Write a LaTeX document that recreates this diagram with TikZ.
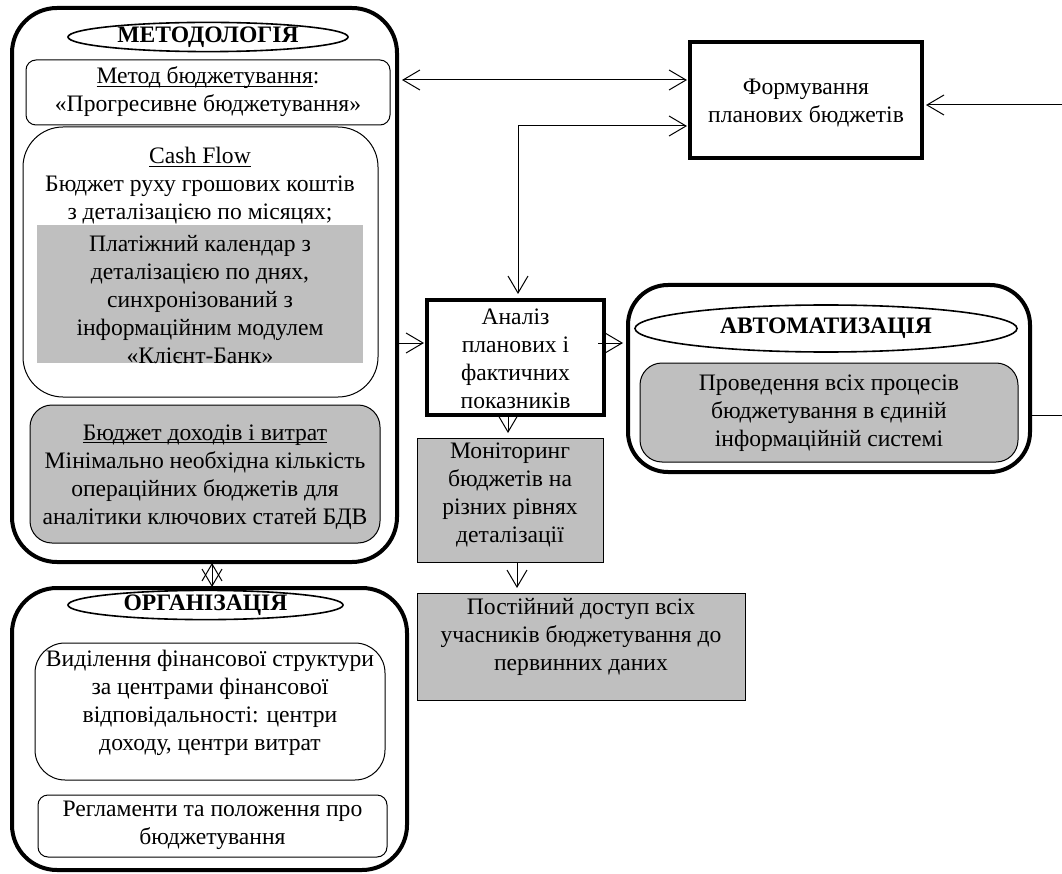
\documentclass[tikz,border=0pt]{standalone}
\usepackage{fontspec}
\setmainfont{Liberation Serif}
\usetikzlibrary{arrows.meta,shapes.geometric}
\definecolor{boxgray}{RGB}{191,191,191}
\newcommand\fsz{\fontsize{23.6}{28}\selectfont}
\newcommand\myul[1]{\setbox0\hbox{#1}\rlap{\rule[-3pt]{\wd0}{1.1pt}}\box0}
\begin{document}
\begin{tikzpicture}[x=1pt,y=-1pt,
  bigbox/.style={draw,line width=4pt,rounded corners=45pt,inner sep=0pt,outer sep=0pt},
  ellbox/.style={ellipse,draw,line width=1.6pt,inner sep=0pt,font=\fsz\bfseries},
  thinbox/.style={draw,line width=1pt,inner sep=0pt,outer sep=0pt},
  grayfill/.style={fill=boxgray},
  sqbox/.style={draw,line width=3.5pt,inner sep=0pt,outer sep=0pt},
  txt/.style={align=center,inner sep=0pt,font=\fsz},
  conn/.style={line width=1pt,-{Straight Barb[length=17pt,width=20pt]}},
  dconn/.style={line width=1pt,{Straight Barb[length=17pt,width=20pt]}-{Straight Barb[length=17pt,width=20pt]}}
]
\useasboundingbox (0,0) rectangle (1062,874);

% ---------- METHODOLOGY ----------
\node[bigbox,minimum width=385pt,minimum height=554pt] (meth) at (204.5,285) {};
\node[ellbox,minimum width=280pt,minimum height=27pt] (methell) at (208,37) {МЕТОДОЛОГІЯ};
\node[thinbox,rounded corners=10pt,minimum width=364pt,minimum height=65pt] (metod) at (208,92.5) {};
\node[txt] (metodt) at (208,92) {\myul{Метод бюджетування}:\\«Прогресивне бюджетування»};
\node[thinbox,rounded corners=40pt,minimum width=355pt,minimum height=270pt] (cash) at (200.5,262) {};
\node[grayfill,inner sep=0pt,minimum width=326pt,minimum height=138pt] (calrect) at (200,294) {};
\node[txt] (casht) at (200,186) {\myul{Cash Flow}\\Бюджет руху грошових коштів\\з деталізацією по місяцях;};
\node[txt] (calt) at (200,300) {Платіжний календар з\\деталізацією по днях,\\синхронізований з\\інформаційним модулем\\«Клієнт-Банк»};
\node[thinbox,grayfill,rounded corners=22pt,minimum width=350pt,minimum height=138pt] (bdv) at (205,474) {};
\node[txt] (bdvt) at (205,477) {\myul{Бюджет доходів і витрат}\\Мінімально необхідна кількість\\операційних бюджетів для\\аналітики ключових статей БДВ};

% ---------- ORGANIZATION ----------
\node[bigbox,minimum width=395pt,minimum height=282pt] (org) at (209.5,729) {};
\node[ellbox,minimum width=275pt,minimum height=25pt] (orgell) at (205.5,605) {ОРГАНІЗАЦІЯ};
\node[thinbox,rounded corners=30pt,minimum width=350pt,minimum height=137pt] (fin) at (210,711.5) {};
\node[txt] (fint) at (210,703) {Виділення фінансової структури\\за центрами фінансової\\відповідальності: центри\\доходу, центри витрат};
\node[thinbox,rounded corners=10pt,minimum width=349pt,minimum height=62pt] (reg) at (212.5,826) {};
\node[txt] (regt) at (212.5,825) {Регламенти та положення про\\бюджетування};

% ---------- CENTER / RIGHT ----------
\node[sqbox,minimum width=232pt,minimum height=116pt] (form) at (806,100) {};
\node[txt] (formt) at (806,103) {Формування\\планових бюджетів};
\node[sqbox,minimum width=177pt,minimum height=115pt] (ana) at (515.5,357.5) {};
\node[txt] (anat) at (515.5,359) {Аналіз\\планових і\\фактичних\\показників};
\node[thinbox,grayfill,minimum width=186pt,minimum height=124pt] (mon) at (510,500) {};
\node[txt] (mont) at (510,495) {Моніторинг\\бюджетів на\\різних рівнях\\деталізації};
\node[thinbox,grayfill,minimum width=328pt,minimum height=107pt] (post) at (581,646.5) {};
\node[txt] (postt) at (581,637) {Постійний доступ всіх\\учасників бюджетування до\\первинних даних};

\node[bigbox,rounded corners=40pt,minimum width=402pt,minimum height=187pt] (auto) at (829,378.5) {};
\node[ellbox,minimum width=382pt,minimum height=47pt] (autoell) at (826,328.5) {АВТОМАТИЗАЦІЯ};
\node[thinbox,grayfill,rounded corners=22pt,minimum width=378pt,minimum height=99pt] (autog) at (829,412.5) {};
\node[txt] (autot) at (829,413) {Проведення всіх процесів\\бюджетування в єдиній\\інформаційній системі};

% ---------- CONNECTORS ----------
\draw[dconn,shorten <=5pt,shorten >=3pt] (meth.east |- 0,80) -- (form.west |- 0,80);
\draw[dconn,shorten <=6pt,shorten >=3pt] (ana.north -| 518,0) |- (form.west |- 0,126);
\draw[conn,shorten <=2pt,shorten >=3pt] (meth.east |- 0,343) -- (ana.west |- 0,343);
\draw[conn,shorten <=-6pt,shorten >=5pt] (ana.east |- 0,343) -- (auto.west |- 0,343);
\draw[conn,shorten >=5pt] (ana.south -| 508,0) -- (mon.north -| 508,0);
\draw[conn,shorten >=5pt] (mon.south -| 517,0) -- (post.north -| 517,0);
\draw[dconn,shorten <=1pt,shorten >=1pt] (meth.south -| 212,0) -- (org.north -| 212,0);
\draw[conn,shorten >=4pt] (auto.east |- 0,415) -- (1066,415) |- (form.east |- 0,105);
\end{tikzpicture}
\end{document}
